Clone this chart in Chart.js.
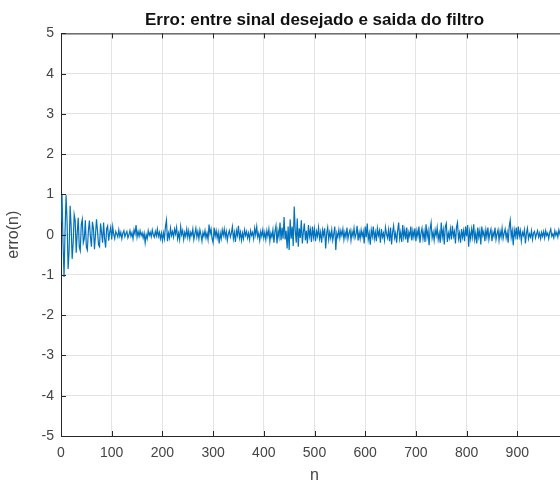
<!DOCTYPE html>
<html>
<head>
<meta charset="utf-8">
<title>Erro</title>
<script src="https://cdn.jsdelivr.net/npm/chart.js@4"></script>
<style>
  html, body { margin: 0; padding: 0; background: #fff; overflow: hidden; }
  #wrap { position: relative; width: 640px; height: 484px; }
</style>
</head>
<body>
<div id="wrap"><canvas id="erroChart"></canvas></div>
<script>
// erro(n), one value every 2 samples (n = 0, 2, 4, ... 998)
const erro = [
  0.3, 1.0, -0.2, -1.05, 0.1, 0.98, 0.3, -0.85, -0.4, 0.72, 0.2, -0.6, -0.2, 0.5, 0.35, -0.45, 0.05, 0.42, -0.3, -0.4, 0.25, 0.38, -0.2, -0.1, 0.36,
  -0.3, -0.38, 0.1, 0.35, -0.05, -0.3, 0.32, 0.15, -0.36, 0.0, 0.38, 0.1, -0.25, -0.3, 0.28, 0.05, -0.2, 0.3, -0.1, -0.32, 0.15, 0.22, -0.15, 0.05, 0.18,
  -0.12, 0.2, 0.0, -0.1, 0.08, 0.02, -0.06, 0.12, -0.04, 0.06, -0.1, 0.04, 0.1, -0.05, 0.03, 0.08, -0.08, 0.0, 0.1, -0.04, 0.05, -0.1, 0.12, 0.02, 0.24,
  -0.06, 0.08, -0.04, 0.1, -0.02, 0.05, -0.08, 0.04, -0.2, 0.0, -0.1, 0.1, -0.02, 0.06, -0.05, 0.12, 0.0, -0.06, 0.08, -0.03, 0.14, -0.04, 0.06, -0.1, 0.04,
  -0.14, 0.05, -0.1, 0.2, 0.36, -0.16, 0.04, -0.08, 0.16, -0.02, 0.08, -0.06, 0.14, 0.02, 0.18, -0.1, 0.04, -0.12, 0.2, 0.0, 0.1, -0.12, 0.06, -0.04, 0.14,
  -0.06, 0.1, -0.1, 0.06, -0.02, 0.14, -0.12, 0.02, 0.16, -0.06, 0.08, -0.1, 0.12, 0.0, -0.16, 0.06, -0.04, 0.1, -0.08, 0.04, -0.12, 0.25, 0.02, 0.14, -0.1,
  -0.2, 0.18, -0.04, 0.1, -0.08, 0.06, -0.22, 0.04, -0.1, 0.12, -0.02, 0.14, -0.06, 0.08, -0.14, 0.02, 0.1, -0.06, 0.04, 0.2, -0.1, 0.06, -0.18, 0.1, -0.02,
  0.22, -0.08, 0.06, -0.14, 0.04, -0.1, 0.12, -0.02, 0.08, -0.08, 0.04, -0.12, 0.1, -0.02, 0.06, -0.1, 0.16, 0.0, 0.2, -0.06, 0.04, -0.14, 0.08, -0.04, 0.12,
  -0.08, 0.06, -0.12, 0.1, -0.04, 0.14, -0.16, 0.04, -0.06, 0.12, -0.2, 0.08, 0.22, -0.22, 0.1, -0.06, 0.3, -0.14, 0.18, -0.1, 0.44, -0.12, 0.1, -0.34, 0.2,
  -0.38, 0.38, -0.1, 0.2, -0.28, 0.7, 0.1, -0.2, 0.4, -0.3, 0.16, -0.08, 0.36, -0.22, 0.06, 0.28, -0.14, 0.1, -0.22, 0.24, -0.04, 0.12, -0.18, 0.2, -0.06,
  0.14, -0.16, 0.08, -0.04, 0.18, -0.1, 0.06, -0.2, 0.12, -0.02, 0.16, -0.34, 0.04, 0.18, -0.12, 0.06, -0.08, 0.12, -0.14, 0.02, 0.2, -0.38, 0.04, -0.06, 0.12,
  -0.08, 0.1, -0.02, 0.14, -0.12, 0.06, -0.06, 0.18, -0.1, 0.04, 0.12, -0.14, 0.08, -0.04, 0.16, -0.08, 0.02, 0.22, -0.14, 0.06, -0.1, 0.12, -0.04, 0.08, -0.22,
  0.2, -0.06, 0.28, -0.12, 0.04, -0.25, 0.12, -0.04, 0.2, -0.1, 0.06, -0.16, 0.16, -0.02, 0.1, -0.2, 0.14, -0.06, 0.04, -0.14, 0.18, 0.02, -0.08, 0.12, -0.16,
  0.18, -0.24, 0.06, 0.22, -0.08, 0.04, -0.2, 0.1, 0.3, -0.1, 0.06, -0.18, 0.24, -0.06, 0.12, -0.12, 0.18, -0.2, 0.06, -0.04, 0.2, -0.14, 0.1, -0.06, 0.16,
  -0.16, 0.1, -0.04, 0.2, -0.2, 0.04, 0.16, -0.1, 0.08, -0.18, 0.26, -0.06, 0.1, -0.26, 0.14, 0.3, -0.08, 0.06, -0.14, 0.12, -0.02, 0.18, -0.12, 0.04, -0.2,
  0.3, -0.06, 0.12, -0.24, 0.2, 0.28, -0.18, 0.04, -0.08, 0.14, -0.12, 0.22, -0.04, 0.08, -0.22, 0.18, 0.3, -0.1, 0.04, -0.2, 0.14, -0.06, 0.1, -0.16, 0.2,
  -0.04, 0.24, -0.3, 0.08, -0.1, 0.14, -0.06, 0.26, -0.12, 0.04, -0.22, 0.18, -0.06, 0.1, -0.24, 0.2, -0.02, 0.08, -0.16, 0.12, -0.06, 0.18, -0.12, 0.04, 0.14,
  -0.16, 0.06, -0.04, 0.18, -0.12, 0.02, 0.12, -0.14, 0.08, -0.06, 0.16, -0.1, 0.04, 0.14, -0.08, 0.06, -0.2, 0.2, 0.36, -0.06, 0.1, -0.26, 0.12, -0.04, 0.18,
  -0.12, 0.2, -0.04, 0.1, -0.16, 0.06, -0.02, 0.12, -0.22, 0.04, 0.16, -0.1, 0.02, -0.06, 0.1, -0.12, 0.04, 0.08, -0.08, 0.02, 0.1, -0.06, 0.04, -0.1, 0.06,
  -0.04, 0.08, -0.08, 0.1, -0.02, 0.04, -0.1, 0.06, 0.14, -0.04, 0.02, -0.08, 0.1, -0.02, 0.06, -0.06, 0.12, 0.02, -0.08, 0.04, -0.04, 0.1, -0.02, 0.06, -0.04
];
const n = erro.map((_, i) => i * 2);

const xTicks = [0, 100, 200, 300, 400, 500, 600, 700, 800, 900, 1000];
const yTicks = [-5, -4, -3, -2, -1, 0, 1, 2, 3, 4, 5];

const axisColor = '#262626';
const labelColor = '#444';
const font = 'Liberation Sans, Arial, Helvetica, sans-serif';

// matlab style box: top edge plus short ticks pointing inward
const boxTicks = {
  id: 'boxTicks',
  afterDraw(chart) {
    const { ctx, chartArea: a, scales } = chart;
    ctx.save();
    ctx.strokeStyle = axisColor;
    ctx.lineWidth = 1;
    ctx.beginPath();
    ctx.moveTo(a.left, a.top + 0.5);
    ctx.lineTo(a.right, a.top + 0.5);
    xTicks.forEach(v => {
      const px = Math.round(scales.x.getPixelForValue(v)) + 0.5;
      ctx.moveTo(px, a.top);
      ctx.lineTo(px, a.top + 5);
      ctx.moveTo(px, a.bottom);
      ctx.lineTo(px, a.bottom - 5);
    });
    yTicks.forEach(v => {
      const py = Math.round(scales.y.getPixelForValue(v)) + 0.5;
      ctx.moveTo(a.left, py);
      ctx.lineTo(a.left + 5, py);
    });
    ctx.stroke();
    ctx.restore();
  }
};

new Chart(document.getElementById('erroChart'), {
  type: 'line',
  data: {
    datasets: [{
      data: n.map((x, i) => ({ x: x, y: erro[i] })),
      borderColor: '#0072BD',
      borderWidth: 1.2,
      pointRadius: 0,
      tension: 0,
      fill: false
    }]
  },
  options: {
    responsive: true,
    maintainAspectRatio: false,
    animation: false,
    layout: { padding: { left: 0, right: 72, top: 0, bottom: 0 } },
    plugins: {
      legend: { display: false },
      tooltip: { enabled: false },
      title: {
        display: true,
        fullSize: false,
        text: 'Erro: entre sinal desejado e saida do filtro',
        color: '#111',
        font: { family: font, size: 17, weight: 'bold', lineHeight: 1.2 },
        padding: { top: 10, bottom: 3 }
      }
    },
    scales: {
      x: {
        type: 'linear',
        min: 0,
        max: 1000,
        afterBuildTicks: s => { s.ticks = xTicks.map(v => ({ value: v })); },
        afterFit: s => { s.height = 48; },
        ticks: {
          color: labelColor,
          font: { family: font, size: 14 },
          padding: 9,
          maxRotation: 0,
          callback: v => (v < 1000 ? v : '')
        },
        grid: { color: '#e3e3e3', drawTicks: false },
        border: { display: true, color: axisColor, width: 1 },
        title: {
          display: true,
          text: 'n',
          color: labelColor,
          font: { family: font, size: 16, lineHeight: 1 },
          padding: 0
        }
      },
      y: {
        min: -5,
        max: 5,
        afterBuildTicks: s => { s.ticks = yTicks.map(v => ({ value: v })); },
        afterFit: s => { s.width = 61; },
        ticks: {
          color: labelColor,
          font: { family: font, size: 14 },
          padding: 7
        },
        grid: { color: '#e3e3e3', drawTicks: false },
        border: { display: true, color: axisColor, width: 1 },
        title: {
          display: true,
          text: 'erro(n)',
          color: labelColor,
          font: { family: font, size: 16, lineHeight: 1 },
          padding: 6
        }
      }
    }
  },
  plugins: [boxTicks]
});
</script>
</body>
</html>
